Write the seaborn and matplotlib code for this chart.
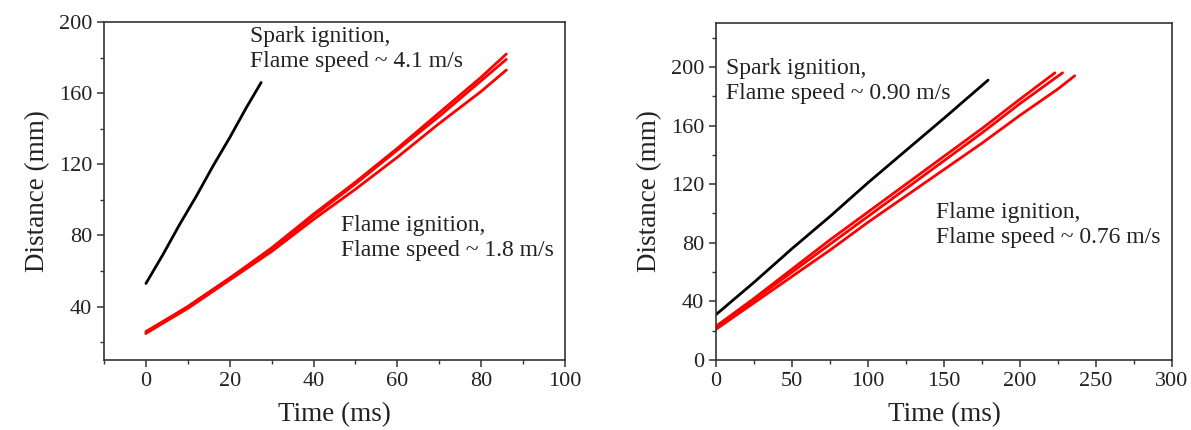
import numpy as np
import pandas as pd
import matplotlib
matplotlib.use("Agg")
import matplotlib.pyplot as plt
from matplotlib.ticker import MultipleLocator
import seaborn as sns

# ---------------- data ----------------
left_spark_t = [0, 4, 8, 12, 16, 20, 24, 27.5]
left_spark_d = [53, 69, 86, 102, 119, 135, 152, 166]

left_flame_t = [0, 10, 20, 30, 40, 50, 60, 70, 80, 86]
left_flame1_d = [25, 40, 56, 73, 92, 110, 129, 149, 169, 182]
left_flame2_d = [26, 40, 56, 72, 91, 109, 128, 147, 167, 179]
left_flame3_d = [25, 39, 55, 71, 89, 106, 124, 143, 161, 173]

right_spark_t = [0, 25, 50, 75, 100, 125, 150, 179]
right_spark_d = [31, 53, 76, 98, 121, 143, 165, 191]

right_flame1_t = [0, 25, 50, 75, 100, 125, 150, 175, 200, 223]
right_flame1_d = [23, 42, 62, 82, 101, 120, 139, 158, 178, 196]
right_flame2_t = [0, 25, 50, 75, 100, 125, 150, 175, 200, 228]
right_flame2_d = [22, 41, 60, 79, 98, 117, 136, 155, 175, 196]
right_flame3_t = [0, 25, 50, 75, 100, 125, 150, 175, 200, 225, 236]
right_flame3_d = [21, 39, 57, 75, 94, 112, 130, 148, 167, 185, 194]

left_labels = ["Spark ignition,\nFlame speed ~ 4.1 m/s",
               "Flame ignition,\nFlame speed ~ 1.8 m/s"]
right_labels = ["Spark ignition,\nFlame speed ~ 0.90 m/s",
                "Flame ignition,\nFlame speed ~ 0.76 m/s"]
xlabel = "Time (ms)"
ylabel = "Distance (mm)"

# ---------------- style ----------------
sns.set_theme(style="ticks")
plt.rcParams["font.family"] = ["Liberation Serif", "DejaVu Serif"]
plt.rcParams["text.color"] = "#222222"
plt.rcParams["axes.labelcolor"] = "#222222"
plt.rcParams["xtick.color"] = "#333333"
plt.rcParams["ytick.color"] = "#333333"
plt.rcParams["xtick.labelcolor"] = "#222222"
plt.rcParams["ytick.labelcolor"] = "#222222"


def build(runs):
    frames = []
    for name, t, d in runs:
        frames.append(pd.DataFrame({"time": t, "dist": d, "run": name}))
    return pd.concat(frames, ignore_index=True)


left_df = build([
    ("spark", left_spark_t, left_spark_d),
    ("flame1", left_flame_t, left_flame1_d),
    ("flame2", left_flame_t, left_flame2_d),
    ("flame3", left_flame_t, left_flame3_d),
])
right_df = build([
    ("spark", right_spark_t, right_spark_d),
    ("flame1", right_flame1_t, right_flame1_d),
    ("flame2", right_flame2_t, right_flame2_d),
    ("flame3", right_flame3_t, right_flame3_d),
])
palette = {"spark": "black", "flame1": "#ff0000", "flame2": "#ff0000", "flame3": "#ff0000"}

W, H = 1191, 430
fig = plt.figure(figsize=(W / 100, H / 100), dpi=100)
ax1 = fig.add_axes([104 / W, 1 - 360 / H, 461 / W, 338 / H])
ax2 = fig.add_axes([716 / W, 1 - 360 / H, 456 / W, 337 / H])

for ax, df in ((ax1, left_df), (ax2, right_df)):
    sns.lineplot(data=df, x="time", y="dist", hue="run", palette=palette,
                 estimator=None, sort=False, legend=False, linewidth=2.0, ax=ax)
    ax.set_xlabel(xlabel, fontsize=19.5, labelpad=8)
    ax.set_ylabel(ylabel, fontsize=19.5, labelpad=6)
    for s in ax.spines.values():
        s.set_visible(True)
        s.set_color("#333333")
        s.set_linewidth(1.2)
    ax.tick_params(which="major", direction="out", length=5, width=1.1, labelsize=16,
                   top=False, right=False)
    ax.tick_params(which="minor", direction="out", length=3, width=1.0,
                   top=False, right=False)

ax1.set_xlim(-10, 100)
ax1.set_ylim(10, 200)
ax1.xaxis.set_major_locator(MultipleLocator(20))
ax1.xaxis.set_minor_locator(MultipleLocator(10))
ax1.set_yticks([40, 80, 120, 160, 200])
ax1.yaxis.set_minor_locator(MultipleLocator(20))

ax2.set_xlim(0, 300)
ax2.set_ylim(0, 230)
ax2.xaxis.set_major_locator(MultipleLocator(50))
ax2.xaxis.set_minor_locator(MultipleLocator(25))
ax2.set_yticks([0, 40, 80, 120, 160, 200])
ax2.yaxis.set_minor_locator(MultipleLocator(20))

fs = 17
ax1.text(24.8, 197.5, left_labels[0], fontsize=fs, va="top", ha="left", linespacing=1.25)
ax1.text(46.5, 91.5, left_labels[1], fontsize=fs, va="top", ha="left", linespacing=1.25)
ax2.text(6.5, 206, right_labels[0], fontsize=fs, va="top", ha="left", linespacing=1.25)
ax2.text(145, 108, right_labels[1], fontsize=fs, va="top", ha="left", linespacing=1.25)

fig.savefig("out.png", dpi=100)
